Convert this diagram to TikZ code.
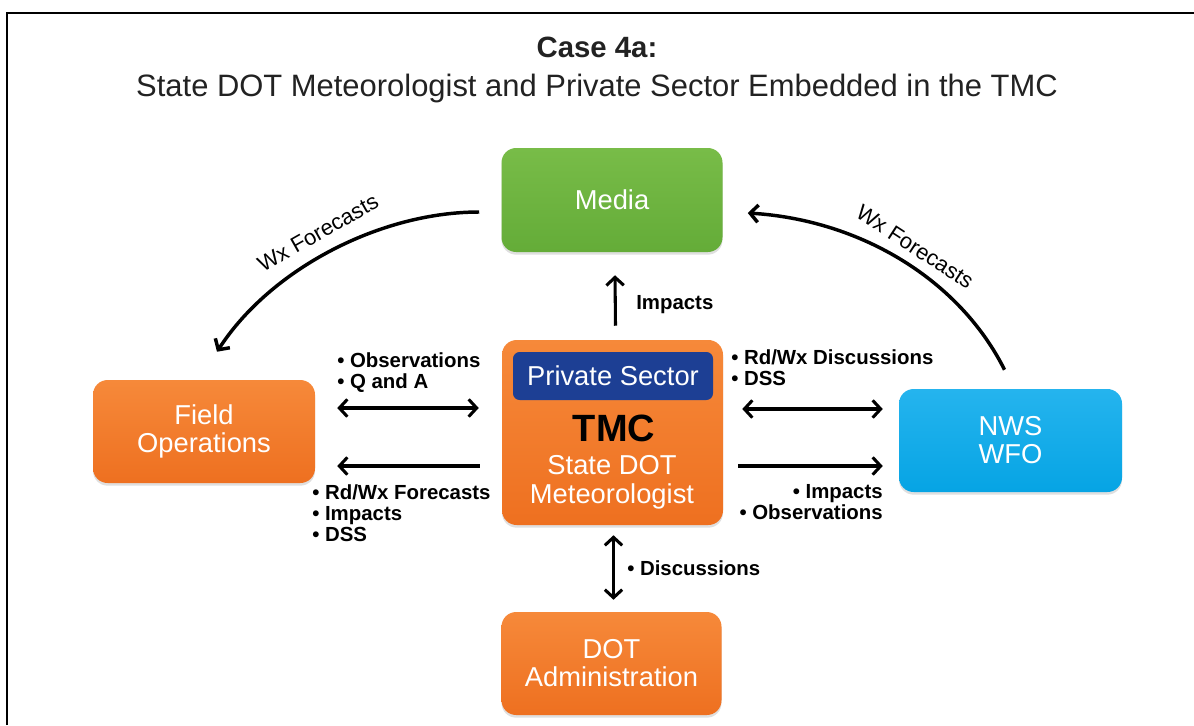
\documentclass[tikz,border=0pt]{standalone}
\usepackage{fontspec}
\setmainfont{Liberation Sans}
\usetikzlibrary{arrows.meta,calc,shadows}
\definecolor{orT}{HTML}{F6893A}
\definecolor{orB}{HTML}{EE7020}
\definecolor{grT}{HTML}{78BC48}
\definecolor{grB}{HTML}{64AC38}
\definecolor{cyT}{HTML}{25B4EE}
\definecolor{cyB}{HTML}{06A4E4}
\definecolor{bandblue}{HTML}{1D3F94}
\definecolor{titlegray}{HTML}{222222}
\begin{document}
\begin{tikzpicture}[x=0.75pt,y=-0.75pt,
  box/.style={rounded corners=11pt, inner sep=0pt, text=white, align=center,
    font=\fontsize{20.5}{21}\selectfont,
    drop shadow={shadow xshift=0pt,shadow yshift=-2pt,opacity=0.25}},
  orbox/.style={box, top color=orT, bottom color=orB},
  grbox/.style={box, top color=grT, bottom color=grB},
  cybox/.style={box, top color=cyT, bottom color=cyB},
  lbl/.style={inner sep=0pt, font=\bfseries\fontsize{15.3}{15.75}\selectfont, text=black},
  curvlbl/.style={inner sep=0pt, font=\fontsize{16.5}{18}\selectfont},
  arr/.style={line width=2.3pt, -{Straight Barb[length=6pt,width=13pt]}},
  biarr/.style={line width=2.3pt, {Straight Barb[length=6pt,width=13pt]}-{Straight Barb[length=6pt,width=13pt]}},
  curv/.style={line width=2.6pt, -{Straight Barb[length=6pt,width=13pt]}}
]
\useasboundingbox (0,0) rectangle (1194,725);
% frame
\draw[line width=1.6pt] (7,725) -- (7,13) -- (1194,13);

% title
\node[inner sep=0pt, text=titlegray, font=\bfseries\fontsize{22}{24}\selectfont] (t1) at (597,47) {Case 4a:};
\node[inner sep=0pt, text=titlegray, font=\fontsize{23.2}{25}\selectfont] (t2) at (597,88) {State DOT Meteorologist and Private Sector Embedded in the TMC};

% boxes
\node[grbox, minimum width=165.75pt, minimum height=78pt] (media) at (612,200) {Media};
\node[orbox, minimum width=165.75pt, minimum height=138.75pt] (tmc) at (612.5,432.5) {};
\node[orbox, minimum width=166.5pt, minimum height=77.25pt] (field) at (204,431.5) {Field\\Operations};
\node[cybox, minimum width=167.25pt, minimum height=77.25pt] (nws) at (1010.5,440.5) {NWS\\WFO};
\node[orbox, minimum width=165pt, minimum height=77.25pt] (dot) at (611.5,663.5) {DOT\\Administration};

% TMC inner
\node[fill=bandblue, rounded corners=5pt, minimum width=150pt, minimum height=36pt, inner sep=0pt,
  text=white, font=\fontsize{20.5}{21}\selectfont] (band) at (613,376) {Private Sector};
\node[inner sep=0pt, font=\bfseries\fontsize{28.5}{30}\selectfont, text=black] (tmclbl) at (614,428) {TMC};
\node[inner sep=0pt, align=center, text=white, font=\fontsize{20.5}{21.5}\selectfont] (sdm) at (612,482) {State DOT\\Meteorologist};

% vertical arrows
\draw[arr] ($(tmc.north)+(3,-14)$) -- ($(media.south)+(3,23)$);
\node[lbl, anchor=west] (implbl) at (636,305) {Impacts};
\draw[biarr] ($(tmc.south)+(1,10)$) -- ($(dot.south |- dot.north)+(2,-12)$);
\node[lbl, anchor=west] (disclbl) at (627,568) {• Discussions};

% left arrows
\draw[biarr] ($(field.east)+(22,-23.5)$) -- ($(tmc.west)+(-23,-24.5)$);
\draw[arr] ($(tmc.west)+(-22,33.5)$) -- ($(field.east)+(22,34.5)$);
\node[lbl, anchor=west, align=left] (obsl) at (337,372.5) {• Observations\\• Q and A};
\node[lbl, anchor=west, align=left] (fcl) at (312,513.5) {• Rd/Wx Forecasts\\• Impacts\\• DSS};

% right arrows
\draw[biarr] ($(tmc.east)+(19,-23.5)$) -- ($(nws.west)+(-16,-31.5)$);
\draw[arr] ($(tmc.east)+(15,33.5)$) -- ($(nws.west)+(-16,25.5)$);
\node[lbl, anchor=west, align=left] (rdl) at (731,368) {• Rd/Wx Discussions\\• DSS};
\node[lbl, anchor=east, align=right] (impl) at (883,502) {• Impacts\\• Observations};

% curved arrows
\draw[curv] ($(media.west)+(-22,12)$) .. controls +(-100,0) and +(53,-82) .. ($(field.north)+(13,-28)$);
\draw[curv] ($(nws.north)+(-6,-19)$) .. controls +(-45,-90) and +(113,7) .. ($(media.east)+(25,13)$);
\node[curvlbl, rotate=29.5] (wxl) at (318,233) {Wx Forecasts};
\node[curvlbl, rotate=-33] (wxr) at (915,247) {Wx Forecasts};
\end{tikzpicture}
\end{document}
